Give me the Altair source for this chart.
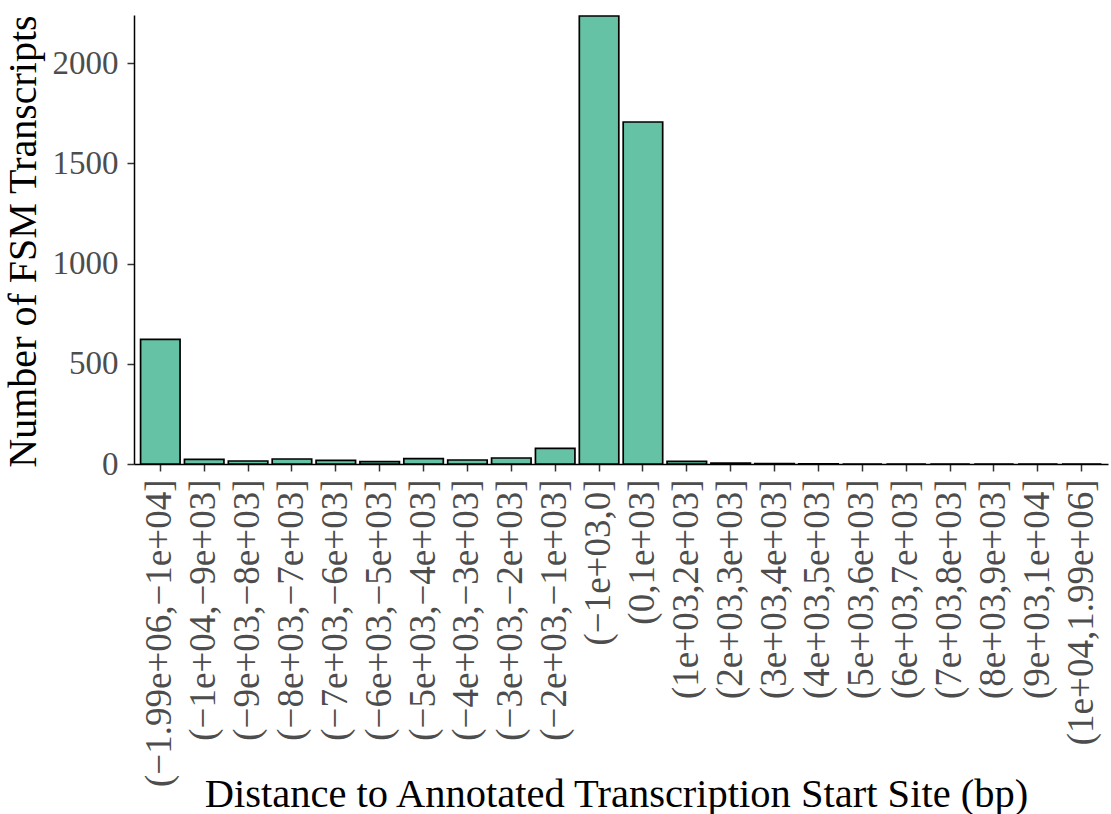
import altair as alt
import pandas as pd

categories = [
    "(−1.99e+06,−1e+04]", "(−1e+04,−9e+03]", "(−9e+03,−8e+03]", "(−8e+03,−7e+03]",
    "(−7e+03,−6e+03]", "(−6e+03,−5e+03]", "(−5e+03,−4e+03]", "(−4e+03,−3e+03]",
    "(−3e+03,−2e+03]", "(−2e+03,−1e+03]", "(−1e+03,0]", "(0,1e+03]",
    "(1e+03,2e+03]", "(2e+03,3e+03]", "(3e+03,4e+03]", "(4e+03,5e+03]",
    "(5e+03,6e+03]", "(6e+03,7e+03]", "(7e+03,8e+03]", "(8e+03,9e+03]",
    "(9e+03,1e+04]", "(1e+04,1.99e+06]",
]
counts = [622, 23, 15, 25, 18, 12, 27, 20, 30, 78, 2236, 1707,
          13, 4, 2, 1, 0, 0, 0, 0, 0, 0]
y_ticks = [0, 500, 1000, 1500, 2000]

df = pd.DataFrame({"bin": categories, "n": counts})

FONT = "Liberation Serif"

chart = alt.Chart(df).mark_bar(
    fill="#66C2A5", stroke="black", strokeWidth=1.7
).encode(
    x=alt.X("bin:N", sort=categories,
            scale=alt.Scale(paddingInner=0.1, paddingOuter=0.15),
            axis=alt.Axis(title="Distance to Annotated Transcription Start Site (bp)",
                          labelAngle=-90, labelFontSize=37, labelColor="#4D4D4D",
                          labelPadding=8, labelLimit=500,
                          titleFontSize=40.5, titleFontWeight="normal", titleColor="black",
                          titleBaseline="alphabetic", titleY=342, titleX=482)),
    y=alt.Y("n:Q", scale=alt.Scale(domain=[0, 2241], nice=False, zero=True),
            axis=alt.Axis(title="Number of FSM Transcripts", values=y_ticks, format="d",
                          labelFontSize=33, labelColor="#4D4D4D", labelPadding=9,
                          titleFontSize=40, titleFontWeight="normal", titleColor="black",
                          titleBaseline="alphabetic", titleX=-99, titleY=226, grid=False)),
).properties(
    width=974, height=449,
    autosize=alt.AutoSizeParams(type="none"),
    padding={"left": 134, "top": 15, "right": 3, "bottom": 350},
).configure_axis(
    labelFont=FONT, titleFont=FONT,
    domainColor="black", domainWidth=1.5,
    tickColor="#333333", tickWidth=1.5, tickSize=7,
).configure_view(stroke=None)

chart.save("out.html", embed_options={"renderer": "svg", "actions": False})
